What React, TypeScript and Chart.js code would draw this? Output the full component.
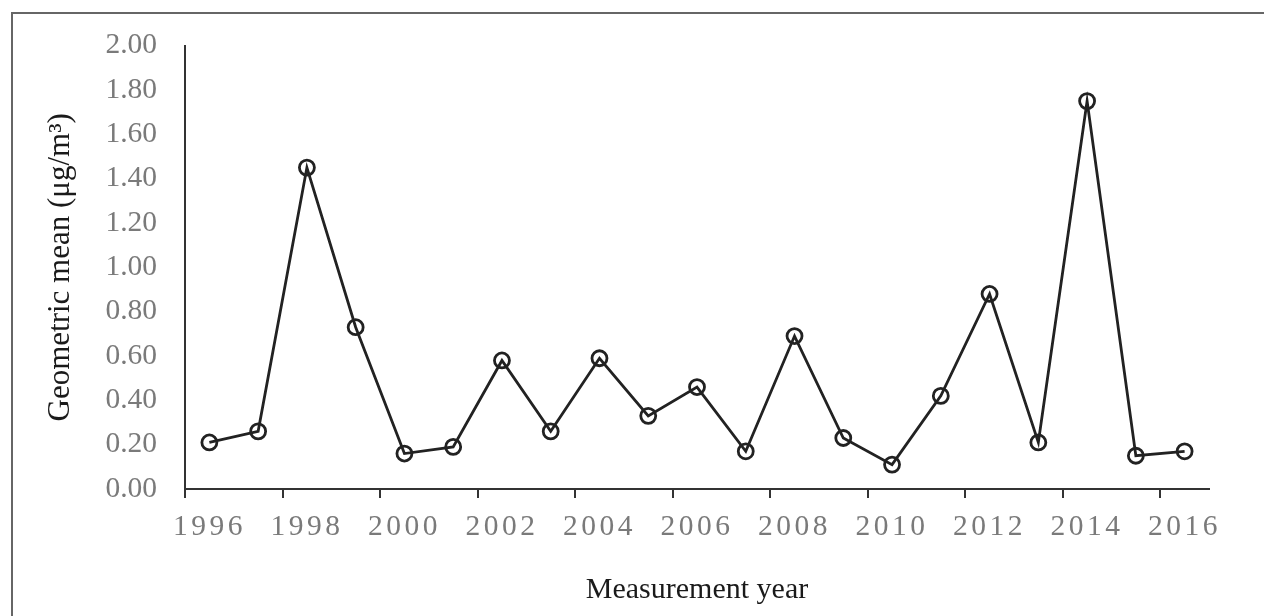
import React, { useEffect, useRef } from "react";
import { Chart, registerables } from "chart.js";

Chart.register(...registerables);

const years: number[] = [
  1996, 1997, 1998, 1999, 2000, 2001, 2002, 2003, 2004, 2005, 2006,
  2007, 2008, 2009, 2010, 2011, 2012, 2013, 2014, 2015, 2016,
];
const geoMeans: number[] = [
  0.21, 0.26, 1.45, 0.73, 0.16, 0.19, 0.58, 0.26, 0.59, 0.33, 0.46,
  0.17, 0.69, 0.23, 0.11, 0.42, 0.88, 0.21, 1.75, 0.15, 0.17,
];
const yearLabels: number[] = [1996, 1998, 2000, 2002, 2004, 2006, 2008, 2010, 2012, 2014, 2016];
const tickMarkYears: number[] = [1995.5, 1997.5, 1999.5, 2001.5, 2003.5, 2005.5, 2007.5, 2009.5, 2011.5, 2013.5, 2015.5];

const yTitle = "Geometric mean (\u03bcg/m\u00b3)";
const xTitle = "Measurement year";

const FONT = "'Liberation Serif', 'Times New Roman', serif";

const letterSpacingPlugin = {
  id: "xLetterSpacing",
  beforeDraw(chart: any) {
    const s: any = chart.scales.x;
    if (s && !s.__ls) {
      const orig = s.drawLabels.bind(s);
      s.drawLabels = (area: any) => {
        const c = s.ctx;
        c.save();
        c.letterSpacing = "3.5px";
        orig(area);
        c.restore();
      };
      s.__ls = true;
    }
  },
};

export default function App() {
  const ref = useRef<HTMLCanvasElement | null>(null);

  useEffect(() => {
    if (!ref.current) return;
    const chart = new Chart(ref.current, {
      type: "line",
      data: {
        datasets: [
          {
            data: years.map((y, i) => ({ x: y, y: geoMeans[i] })),
            borderColor: "#222",
            borderWidth: 2.8,
            pointRadius: 7.5,
            pointBorderWidth: 2.8,
            pointBorderColor: "#222",
            pointBackgroundColor: "rgba(0,0,0,0)",
            pointStyle: "circle",
            tension: 0,
          },
        ],
      },
      plugins: [letterSpacingPlugin],
      options: {
        animation: false,
        responsive: false,
        devicePixelRatio: 1,
        layout: { padding: { left: 0, top: 40, right: 55, bottom: 0 } },
        plugins: { legend: { display: false }, tooltip: { enabled: false } },
        scales: {
          x: {
            type: "linear",
            min: 1995.5,
            max: 2016.5,
            afterBuildTicks: (scale: any) => {
              const vals = [...tickMarkYears, ...yearLabels].sort((a, b) => a - b);
              scale.ticks = vals.map((v) => ({ value: v }));
            },
            afterFit: (scale: any) => {
              scale.height = 127;
            },
            ticks: {
              autoSkip: false,
              maxRotation: 0,
              minRotation: 0,
              padding: 12,
              color: "#7a7a7a",
              font: { family: FONT, size: 29.5 },
              callback: (v: any) => (yearLabels.includes(Number(v)) ? String(v) : ""),
            },
            grid: {
              display: true,
              drawOnChartArea: false,
              drawTicks: true,
              tickLength: 9,
              lineWidth: 2,
              color: (ctx: any) =>
                ctx.tick && tickMarkYears.includes(ctx.tick.value) ? "#333" : "rgba(0,0,0,0)",
            },
            border: { display: true, color: "#333", width: 2 },
            title: {
              display: true,
              text: xTitle,
              color: "#1a1a1a",
              font: { family: FONT, size: 30 },
              padding: { top: 0, bottom: 8 },
            },
          },
          y: {
            min: 0,
            max: 2,
            afterFit: (scale: any) => {
              scale.width = 185;
            },
            ticks: {
              stepSize: 0.2,
              padding: 28,
              color: "#7a7a7a",
              font: { family: FONT, size: 29.5 },
              callback: (v: any) => Number(v).toFixed(2),
            },
            grid: { display: false, drawTicks: false },
            border: { display: true, color: "#333", width: 2 },
            title: {
              display: true,
              text: yTitle,
              color: "#1a1a1a",
              font: { family: FONT, size: 31 },
              padding: { top: 42, bottom: 0 },
            },
          },
        },
      },
    });
    return () => chart.destroy();
  }, []);

  return (
    <div
      style={{
        position: "fixed",
        left: 0,
        top: 0,
        width: 1264,
        height: 616,
        overflow: "hidden",
        background: "#fff",
      }}
    >
      <div
        style={{
          position: "absolute",
          left: 11,
          top: 12,
          width: 1400,
          height: 800,
          borderTop: "2px solid #666",
          borderLeft: "2px solid #666",
        }}
      />
      <canvas
        ref={ref}
        width={1264}
        height={616}
        style={{ position: "absolute", left: 0, top: 0, width: 1264, height: 616 }}
      />
    </div>
  );
}
